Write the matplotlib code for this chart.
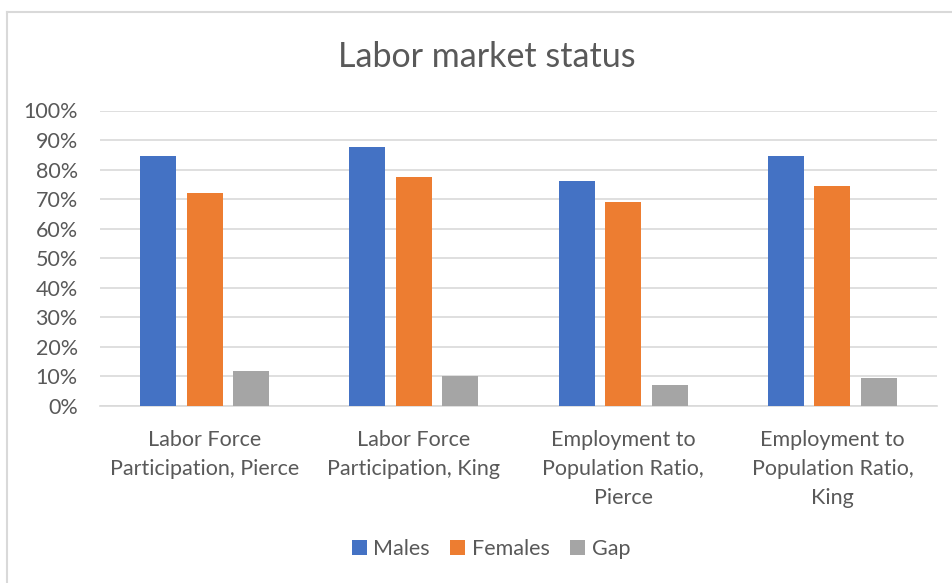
import numpy as np
import matplotlib
matplotlib.use("Agg")
import matplotlib.pyplot as plt
from matplotlib.ticker import PercentFormatter
from matplotlib.patches import Patch

# values
categories = ["Labor Force\nParticipation, Pierce",
              "Labor Force\nParticipation, King",
              "Employment to\nPopulation Ratio,\nPierce",
              "Employment to\nPopulation Ratio,\nKing"]
males = [0.845, 0.877, 0.762, 0.845]
females = [0.722, 0.775, 0.690, 0.746]
gap = [0.119, 0.103, 0.070, 0.096]
series_names = ["Males", "Females", "Gap"]
colors = ["#4472c4", "#ed7d31", "#a5a5a5"]

text_color = "#595959"
grid_color = "#d9d9d9"
plt.rcParams['font.family'] = ['Lato', 'DejaVu Sans']

fig = plt.figure(figsize=(9.52, 5.83), dpi=100)
ax = fig.add_axes([100 / 952, 1 - 406 / 583, 837 / 952, 295.5 / 583])

x = np.arange(len(categories))
w = 0.172
step = 0.222
for i, vals in enumerate([males, females, gap]):
    ax.bar(x + (i - 1) * step, vals, width=w, color=colors[i], zorder=3)

ax.set_xlim(-0.5, len(categories) - 0.5)
ax.set_ylim(0, 1)
ax.set_yticks(np.arange(0, 1.01, 0.1))
ax.yaxis.set_major_formatter(PercentFormatter(1.0, decimals=0))
ax.grid(axis="y", color=grid_color, linewidth=1.2, zorder=0)
for s in ["top", "right", "left"]:
    ax.spines[s].set_visible(False)
ax.spines["bottom"].set_color(grid_color)
ax.spines["bottom"].set_linewidth(1.2)
ax.tick_params(axis="both", length=0, colors=text_color, labelsize=15.5)
ax.tick_params(axis="y", pad=16)
ax.tick_params(axis="x", pad=17)
ax.set_xticks(x)
ax.set_xticklabels(categories, linespacing=1.58)

fig.text(487 / 952, 1 - 57 / 583, "Labor market status", ha="center", va="center",
         fontsize=24.5, color=text_color)

handles = [Patch(facecolor=c, label=n) for c, n in zip(colors, series_names)]
fig.legend(handles=handles, loc="center", bbox_to_anchor=(491 / 952, 1 - 549 / 583),
           ncol=3, frameon=False, fontsize=15.5, labelcolor=text_color,
           handlelength=0.7, handleheight=0.7, handletextpad=0.3, columnspacing=0.95)

# light chart border (only top and left visible in the reference crop)
fig.add_artist(plt.Line2D([7 / 952, 7 / 952], [0, 1 - 12 / 583], color=grid_color,
                          linewidth=1.5, transform=fig.transFigure))
fig.add_artist(plt.Line2D([7 / 952, 1], [1 - 12 / 583, 1 - 12 / 583], color=grid_color,
                          linewidth=1.5, transform=fig.transFigure))

fig.savefig("out.png", dpi=100)
